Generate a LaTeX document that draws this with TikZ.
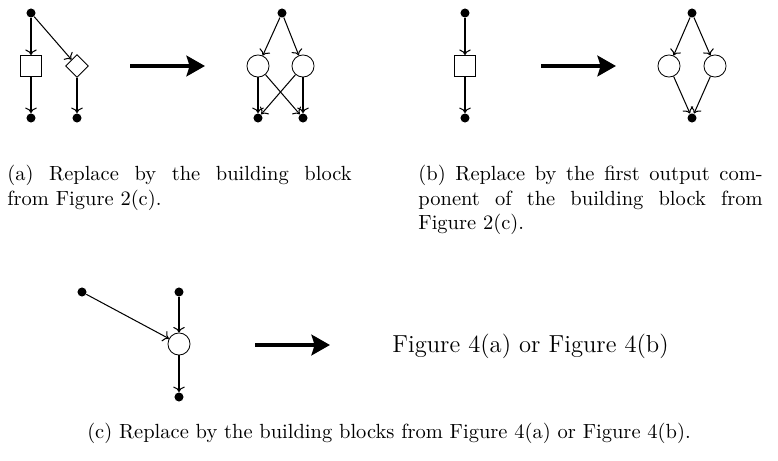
\documentclass[tikz,border=0pt]{standalone}
\usetikzlibrary{arrows.meta,shapes.geometric}
\tikzset{
  vtx/.style={circle,fill,inner sep=0pt,minimum size=4.4pt},
  blk/.style={circle,draw,inner sep=0pt,minimum size=10.8pt},
  sqr/.style={rectangle,draw,inner sep=0pt,minimum size=10.3pt},
  dmd/.style={diamond,draw,inner sep=0pt,minimum size=11.2pt},
  arr/.style={->,line width=0.5pt},
  bigarr/.style={-{Stealth[length=9pt,width=10pt,inset=1.5pt]},line width=2.4pt},
  capt/.style={inner sep=0pt,text width=168pt,align=justify,anchor=north west}
}
\begin{document}
\begin{tikzpicture}[x=0.488pt,y=-0.488pt]
    \useasboundingbox (0,0) rectangle (778,461);
    % (a)
    \node[vtx] (a0) at (31,13) {};
    \node[sqr] (a1) at (31,66) {};
    \node[dmd] (a2) at (77,66) {};
    \node[vtx] (a3) at (31,118) {};
    \node[vtx] (a4) at (77,118) {};
    \draw[arr] (a0)--(a1); \draw[arr] (a0)--(a2);
    \draw[arr] (a1)--(a3); \draw[arr] (a2)--(a4);
    \coordinate (a5) at (130,66); \coordinate (a6) at (205,66);
    \draw[bigarr] (a5)--(a6);
    \node[vtx] (a7) at (282,13) {};
    \node[blk] (a8) at (258,66) {};
    \node[blk] (a9) at (303,66) {};
    \node[vtx] (a10) at (258,118) {};
    \node[vtx] (a11) at (303,118) {};
    \draw[arr] (a7)--(a8); \draw[arr] (a7)--(a9);
    \draw[arr] (a8)--(a10); \draw[arr] (a8)--(a11);
    \draw[arr] (a9)--(a10); \draw[arr] (a9)--(a11);
    \node[capt] (capa) at (7,165) {(a) Replace by the building block\linebreak from Figure 2(c).};
    % (b)
    \node[vtx] (b0) at (465,13) {};
    \node[sqr] (b1) at (465,66) {};
    \node[vtx] (b2) at (465,118) {};
    \draw[arr] (b0)--(b1); \draw[arr] (b1)--(b2);
    \coordinate (b3) at (541,66); \coordinate (b4) at (616,66);
    \draw[bigarr] (b3)--(b4);
    \node[vtx] (b5) at (692,13) {};
    \node[blk] (b6) at (669,66) {};
    \node[blk] (b7) at (715,66) {};
    \node[vtx] (b8) at (692,118) {};
    \draw[arr] (b5)--(b6); \draw[arr] (b5)--(b7);
    \draw[arr] (b6)--(b8); \draw[arr] (b7)--(b8);
    \node[capt] (capb) at (418,165) {(b) Replace by the first output com-\linebreak ponent of the building block from\linebreak Figure 2(c).};
    % (c)
    \node[vtx] (c0) at (82,292) {};
    \node[vtx] (c1) at (179,292) {};
    \node[blk] (c2) at (179,344) {};
    \node[vtx] (c3) at (179,397) {};
    \draw[arr] (c0)--(c2); \draw[arr] (c1)--(c2); \draw[arr] (c2)--(c3);
    \coordinate (c4) at (255,345); \coordinate (c5) at (330,345);
    \draw[bigarr] (c4)--(c5);
    \node[anchor=base west,inner sep=0pt,font=\large] (c6) at (392,352) {Figure 4(a) or Figure 4(b)};
    \node[anchor=base,inner sep=0pt] (capc) at (389,438) {(c) Replace by the building blocks from Figure 4(a) or Figure 4(b).};
\end{tikzpicture}
\end{document}
